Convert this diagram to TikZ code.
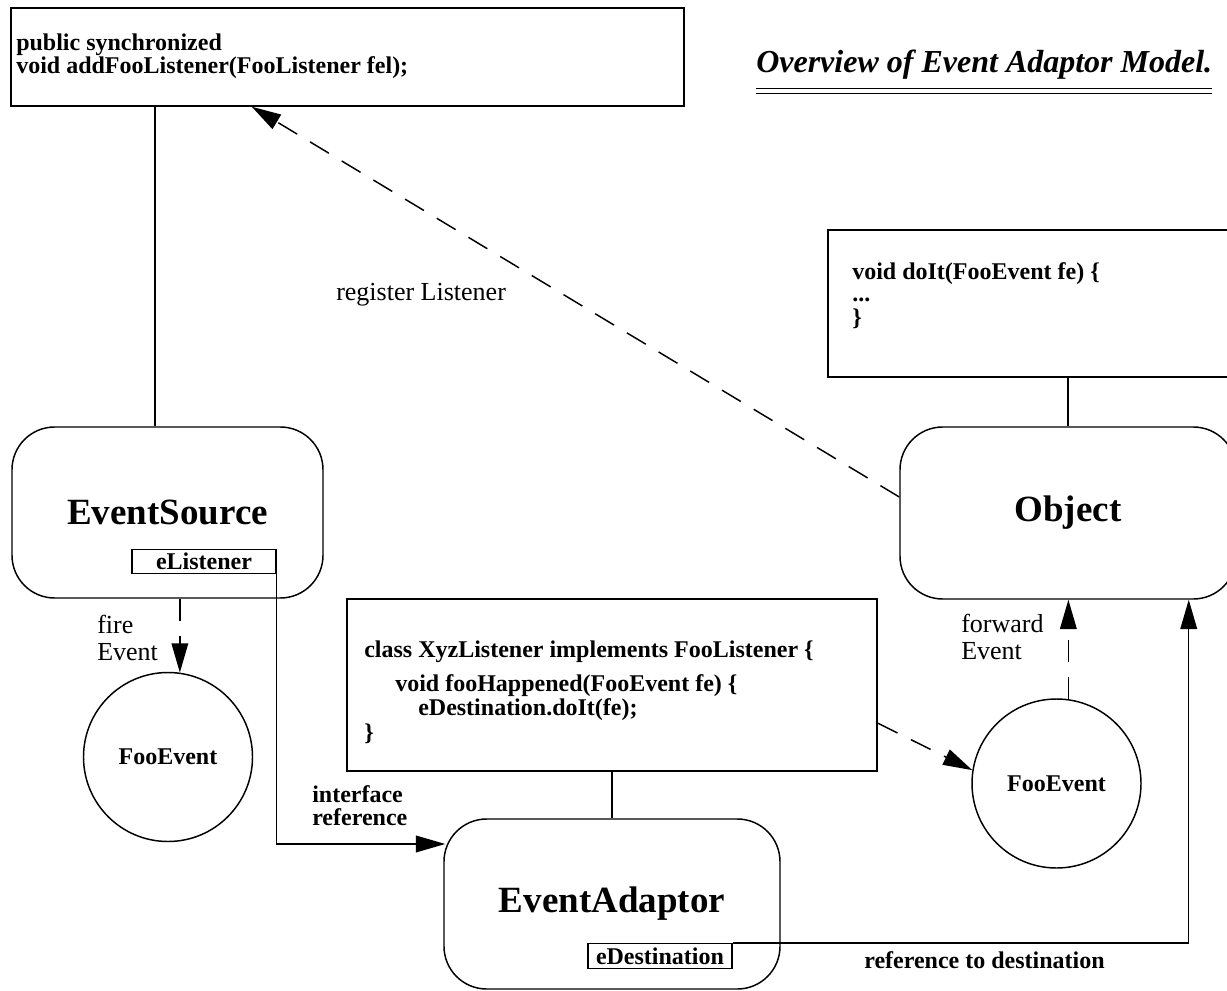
\documentclass[tikz,border=0pt]{standalone}
\usepackage{fontspec}
\setmainfont{Liberation Serif}
\usetikzlibrary{arrows.meta,calc}

\tikzset{
  frame/.style={draw, line width=1.1pt, inner sep=0pt},
  objbox/.style={draw, line width=1.1pt, rounded corners=32pt, inner sep=0pt,
    minimum width=252pt, minimum height=127.5pt,
    font=\fontsize{27.75}{30}\selectfont\bfseries},
  fieldbox/.style={draw, line width=0.9pt, inner sep=0pt, minimum width=108pt,
    minimum height=18.5pt, font=\fontsize{18}{20}\selectfont\bfseries},
  eventnode/.style={draw, circle, line width=1.1pt, inner sep=0pt,
    minimum size=126.75pt, font=\fontsize{18}{20}\selectfont\bfseries},
  code/.style={inner sep=0pt, anchor=north west, align=left,
    font=\fontsize{18}{17.25}\selectfont\bfseries},
  note/.style={inner sep=0pt, anchor=north west, align=left,
    font=\fontsize{19.5}{20}\selectfont},
  flow/.style={line width=1.1pt, -{Triangle[length=22pt,width=12.5pt]}},
  call/.style={flow, dash pattern=on 16.5pt off 11.25pt},
}

\begin{document}
\begin{tikzpicture}[x=0.75pt,y=-0.75pt]
  \useasboundingbox (0,0) rectangle (1227,991);
  \clip (0,0) rectangle (1227,991);

  % source side
  \node[frame, minimum width=504.75pt, minimum height=73.5pt] (addbox) at (347.5,57) {};
  \node[code] (addtext) at (16,33.7) {public synchronized\\void addFooListener(FooListener fel);};
  \node[inner sep=0pt, anchor=base west, font=\fontsize{24}{26}\selectfont\bfseries\itshape]
    (title) at (756,73) {Overview of Event Adaptor Model.};
  \draw[line width=1.1pt] ([yshift=-11.8pt]title.base west) -- ([yshift=-11.8pt]title.base east);
  \draw[line width=1.1pt] ([yshift=-15.2pt]title.base west) -- ([yshift=-15.2pt]title.base east);

  \node[objbox, minimum width=233.25pt, minimum height=128.25pt] (source) at (167.5,512.5) {EventSource};
  \node[fieldbox] (srcfield) at (204,561.5) {eListener};
  \node[eventnode] (srcevent) at (168,757) {FooEvent};
  \draw[line width=1.1pt] ([xshift=-9.4pt]source.north) -- ([xshift=-9.4pt]source.north |- addbox.south);
  \draw[call] (srcevent.82 |- source.south) -- (srcevent.82);
  \node[note] (lblfire) at (97,615) {fire\\Event};

  % adaptor
  \node[frame, minimum width=397.5pt, minimum height=129pt] (xyzbox) at (612,685) {};
  \node[code, font=\fontsize{18}{18.75}\selectfont\bfseries] (xyztext) at (364,640.5)
    {class XyzListener implements FooListener \{\\[6.75pt]
     \hspace*{23.25pt}void fooHappened(FooEvent fe) \{\\[-0.75pt]
     \hspace*{40.5pt}eDestination.doIt(fe);\\
     \}};
  \node[objbox] (adaptor) at (612,904) {EventAdaptor};
  \node[fieldbox] (dstfield) at (660,956) {eDestination};
  \draw[line width=1.1pt] (xyzbox.south) -- (adaptor.north);
  \draw[flow] (srcfield.south east) |- ($(adaptor.north west)!0.15!(adaptor.south west)+(2,0)$);
  \node[code] (lbliface) at (312,785.7) {interface\\reference};

  % destination
  \node[frame, minimum width=360pt, minimum height=110.25pt] (doitbox) at (1068,303.5) {};
  \node[code, font=\fontsize{18}{18}\selectfont\bfseries] (doittext) at (852,262.4)
    {void doIt(FooEvent fe) \{\\[-1.5pt]...\\\}};
  \node[objbox, minimum height=129pt] (object) at (1068,513) {Object};
  \node[eventnode] (fwdevent) at (1056.5,783.5) {FooEvent};
  \draw[line width=1.1pt] (doitbox.south) -- (object.north);
  \draw[call] (fwdevent.82) -- (fwdevent.82 |- object.south);
  \node[note] (lblforward) at (961,614) {forward\\Event};
  \draw[call] ($(xyzbox.south east)!0.28!(xyzbox.north east)$) -- (fwdevent.171);
  \draw[flow] (dstfield.north east) -| ($(object.south east)+(-48,0)$);
  \node[code] (lblref) at (864,951.7) {reference to destination};

  % registration
  \draw[call] ([yshift=12pt]object.west) -- ($(addbox.south west)!0.358!(addbox.south east)$);
  \node[note, anchor=base west] (lblregister) at (336,300) {register Listener};
\end{tikzpicture}
\end{document}
